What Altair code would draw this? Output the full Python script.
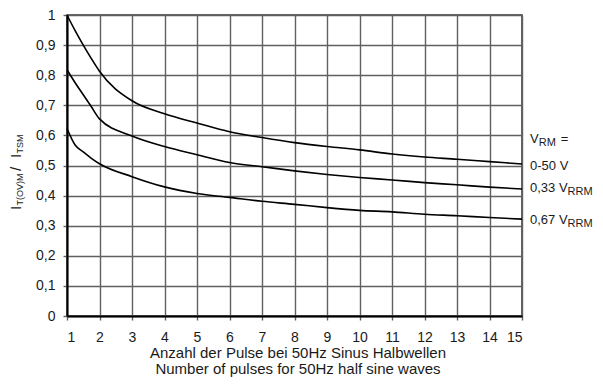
import altair as alt
import pandas as pd

# ---- data ----
x_pts = [1, 1.25, 1.5, 1.75, 2, 3, 4, 5, 6, 7, 8, 9, 10, 11, 12, 13, 14, 15]
v_0_50 = [1.0, 0.948, 0.900, 0.855, 0.813, 0.715, 0.672, 0.641, 0.612, 0.593,
          0.576, 0.563, 0.552, 0.538, 0.528, 0.521, 0.513, 0.505]
v_033 = [0.818, 0.775, 0.735, 0.695, 0.655, 0.598, 0.563, 0.536, 0.510, 0.496,
         0.482, 0.470, 0.460, 0.452, 0.443, 0.436, 0.428, 0.422]
v_067 = [0.623, 0.568, 0.545, 0.524, 0.506, 0.463, 0.429, 0.407, 0.394, 0.381,
         0.371, 0.360, 0.351, 0.346, 0.338, 0.333, 0.327, 0.322]
series_names = ["0-50 V", "0,33 VRRM", "0,67 VRRM"]
x_ticks = list(range(1, 16))
y_ticks = [0, 0.1, 0.2, 0.3, 0.4, 0.5, 0.6, 0.7, 0.8, 0.9, 1.0]

label_main = ["0-50 V", "0,33 V", "0,67 V"]
label_sub = ["", "RRM", "RRM"]
label_y = [0.484, 0.412, 0.304]
header_y = 0.575

x_title = ["Anzahl der Pulse bei 50Hz Sinus Halbwellen",
           "Number of pulses for 50Hz half sine waves"]

FONT = "Liberation Sans"
INK = "#1a1a1a"

rows = []
for name, vals in zip(series_names, [v_0_50, v_033, v_067]):
    for xv, yv in zip(x_pts, vals):
        rows.append({"x": xv, "y": yv, "s": name})
df = pd.DataFrame(rows)

xs = alt.Scale(domain=[1, 15], nice=False, zero=False)
ys = alt.Scale(domain=[0, 1], nice=False)
x_axis = alt.Axis(values=x_ticks, format="d", labelFontSize=14, labelPadding=10,
                  labelOverlap=False, tickCount=15)
y_axis = alt.Axis(values=y_ticks,
                  labelExpr="replace(format(datum.value, '.1~f'), '.', ',')",
                  labelFontSize=14, labelPadding=8, labelOverlap=False, tickCount=11)


def X():
    return alt.X("x:Q", scale=xs, title=None, axis=x_axis)


def Y():
    return alt.Y("y:Q", scale=ys, title=None, axis=y_axis)


lines = alt.Chart(df).mark_line(color="black", strokeWidth=1.6, interpolate="monotone").encode(
    x=X(), y=Y(), detail="s:N",
)


def data_text(text, yv, size, dx, dy=0):
    d = pd.DataFrame({"x": [15], "y": [yv], "t": [text]})
    return alt.Chart(d).mark_text(
        align="left", baseline="alphabetic", font=FONT, fontSize=size,
        color=INK, dx=dx, dy=dy
    ).encode(x=X(), y=Y(), text="t:N")


def px_text(text, px, py, size, angle=0, align="left", baseline="alphabetic"):
    d = pd.DataFrame({"t": [text]})
    kw = dict(align=align, baseline=baseline, font=FONT, fontSize=size, color=INK)
    if angle:
        kw["angle"] = angle
    return alt.Chart(d).mark_text(**kw).encode(
        x=alt.value(px), y=alt.value(py), text="t:N")


layers = [lines]

# right-hand legend labels
layers.append(data_text("V", header_y, 13, 8))
layers.append(data_text("RM", header_y, 11, 8 + 8.7, 3))
layers.append(data_text("=", header_y, 13, 8 + 8.7 + 17.1 + 5))
for m, s, yv in zip(label_main, label_sub, label_y):
    layers.append(data_text(m, yv, 13, 8))
    if s:
        layers.append(data_text(s, yv, 11, 8 + 37.6, 3))

# y-axis title (rotated, with subscripts)
layers.append(px_text("I", -46, 195, 15, angle=270))
layers.append(px_text("T(OV)M", -44, 190.5, 9, angle=270))
layers.append(px_text(" / ", -46, 156, 15, angle=270))
layers.append(px_text("I", -46, 143, 15, angle=270))
layers.append(px_text("TSM", -44, 138.5, 9, angle=270))

# x-axis title lines
layers.append(px_text(x_title[0], 231, 343, 15, align="center"))
layers.append(px_text(x_title[1], 231, 359, 15, align="center"))

chart = alt.layer(*layers).properties(
    width=455, height=301,
    autosize=alt.AutoSizeParams(type="none"),
    padding={"left": 59, "top": 7, "right": 73, "bottom": 63},
).configure_view(
    stroke="#333333", strokeWidth=1.5
).configure_axis(
    grid=True, gridColor="#606060", gridWidth=1.4, gridOpacity=1,
    domainColor="black", domainWidth=2,
    tickColor="#606060", tickWidth=1.4, tickSize=4,
    labelFont=FONT, labelColor=INK,
)

chart.save("out.html", embed_options={"renderer": "svg", "actions": False})
